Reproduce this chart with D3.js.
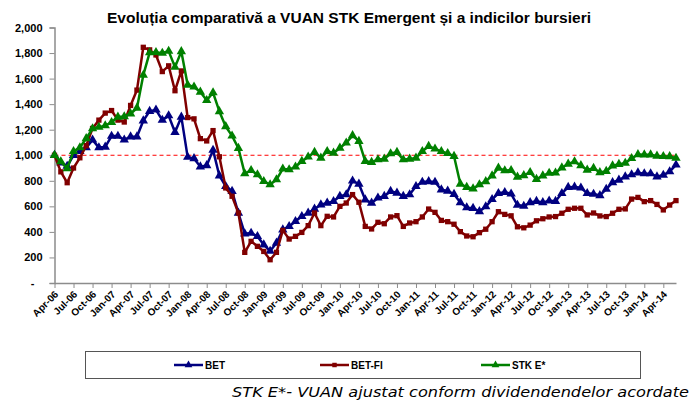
<!DOCTYPE html>
<html>
<head>
<meta charset="utf-8">
<script src="https://cdn.jsdelivr.net/npm/d3@7"></script>
<style>
  body { margin: 0; background: #fff; }
  svg text { font-family: "Liberation Sans", Arial, sans-serif; }
</style>
</head>
<body>
<div id="chart"></div>
<script>
// monthly values, Apr-06 .. Jun-14 (99 months)
const startMonth = new Date(2006, 3, 1);
const months = d3.timeMonth.range(startMonth, new Date(2014, 6, 1));

const tickLabels = ["Apr-06","Jul-06","Oct-06","Jan-07","Apr-07","Jul-07","Oct-07","Jan-08","Apr-08",
  "Jul-08","Oct-08","Jan-09","Apr-09","Jul-09","Oct-09","Jan-10","Apr-10","Jul-10","Oct-10","Jan-11",
  "Apr-11","Jul-11","Oct-11","Jan-12","Apr-12","Jul-12","Oct-12","Jan-13","Apr-13","Jul-13","Oct-13",
  "Jan-14","Apr-14"];

const yTicks = [0, 200, 400, 600, 800, 1000, 1200, 1400, 1600, 1800, 2000];

const bet = [1000, 940, 915, 1000, 1030, 1060, 1120, 1060, 1065, 1150, 1150, 1120, 1145, 1145, 1270, 1345, 1355, 1275, 1310, 1180, 1300, 985, 975, 910, 920,
  1040, 840, 757, 718, 548, 386, 391, 365, 300, 250, 313, 417, 443, 483, 522, 548, 579, 613, 626, 639, 679, 692, 800, 775,
  652, 626, 666, 679, 718, 705, 679, 692, 757, 790, 795, 790,
  730, 720, 695, 630, 590, 585, 560, 598, 655, 702, 710, 698,
  610, 602, 630, 640, 630, 643, 640, 702, 750, 752, 745, 702, 696, 685,
  735, 787, 806, 832, 848, 863, 856, 856, 832, 845, 872, 925];

const betFi = [1000, 870, 785, 900, 980, 1075, 1210, 1275, 1330, 1350, 1275, 1260, 1390, 1510, 1845, 1825, 1785, 1655, 1700, 1505, 1660, 1295, 1285, 1130, 1112, 1193, 988,
  744, 679, 548, 240, 326, 287, 247, 182, 240, 412, 344, 365, 396, 449, 548, 449, 522, 517, 600, 626, 692, 632,
  443, 423, 475, 464, 517, 527, 443, 470, 480, 517, 579, 553,
  490, 480, 460, 402, 368, 362, 394, 421, 480, 558, 537, 526,
  440, 432, 453, 487, 503, 517, 520, 546, 577, 585, 585, 533, 548, 525,
  520, 546, 577, 580, 657, 670, 637, 645, 615, 572, 610, 645];

const stkE = [1000, 950, 895, 1030, 1060, 1131, 1209, 1220, 1232, 1258, 1300, 1303, 1325, 1370, 1627, 1803, 1805, 1800, 1815, 1690, 1812, 1550, 1535, 1495, 1430,
  1490, 1343, 1225, 1152, 1055, 856, 882, 848, 796, 770, 809, 893, 888, 909, 953, 987, 1024, 979, 1031, 1018, 1057, 1097, 1155, 1110,
  953, 945, 966, 971, 1013, 1024, 966, 971, 979, 1031, 1071, 1050,
  1030, 1015, 992, 775, 750, 738, 770, 795, 840, 900, 880, 882,
  830, 842, 866, 812, 840, 860, 862, 902, 932, 950, 920, 885, 898, 865,
  875, 918, 930, 938, 976, 1006, 1004, 1004, 994, 991, 990, 978];

const seriesNames = ["BET", "BET-FI", "STK E*"];
const seriesColors = ["#000080", "#800000", "#008000"];
const seriesShapes = [d3.symbolTriangle, d3.symbolSquare, d3.symbolTriangle];
const seriesValues = [bet, betFi, stkE];

const width = 692, height = 401;
const svg = d3.select("#chart").append("svg")
  .attr("width", width)
  .attr("height", height);

const x = d3.scalePoint()
  .domain(d3.range(months.length))
  .range([54.5, 676]);

const y = d3.scaleLinear()
  .domain([0, 2000])
  .range([283, 27.5]);

// title
svg.append("text")
  .attr("x", 349)
  .attr("y", 23)
  .attr("text-anchor", "middle")
  .style("font-weight", "bold")
  .style("font-size", "14.5px")
  .attr("textLength", 484)
  .attr("lengthAdjust", "spacingAndGlyphs")
  .text("Evoluția  comparativă a VUAN STK Emergent și a indicilor bursieri");

// y axis
const yAxis = svg.append("g")
  .attr("transform", "translate(54.5,0)")
  .call(d3.axisLeft(y).tickValues(yTicks).tickSize(5).tickPadding(7)
    .tickFormat(d => d === 0 ? "-" : d3.format(",")(d)));
yAxis.select(".domain").attr("stroke", "#8c8c8c").attr("stroke-width", 1.5);
yAxis.selectAll(".tick line").attr("stroke", "#8c8c8c");
yAxis.selectAll(".tick text")
  .style("font-size", "11px")
  .style("font-weight", "bold")
  .attr("fill", "#000")
  .attr("dx", d => d === 0 ? -8 : 0);

// x axis
const tickIdx = d3.range(0, months.length, 3);
const xAxis = svg.append("g")
  .attr("transform", "translate(0,283)")
  .call(d3.axisBottom(x).tickValues(tickIdx).tickSize(5).tickSizeOuter(0)
    .tickFormat((d, i) => tickLabels[i]));
xAxis.select(".domain").attr("stroke", "#8c8c8c").attr("stroke-width", 1.5);
xAxis.selectAll(".tick line").attr("stroke", "#8c8c8c");
xAxis.selectAll(".tick text")
  .style("font-size", "10px")
  .style("font-weight", "bold")
  .attr("fill", "#000")
  .attr("text-anchor", "end")
  .attr("x", 0).attr("y", 0).attr("dy", 0)
  .attr("transform", "translate(4,12) rotate(-45)");

// reference line at 1000
svg.append("line")
  .attr("x1", 54.5).attr("x2", 676)
  .attr("y1", y(1000)).attr("y2", y(1000))
  .attr("stroke", "#ff0000")
  .attr("stroke-width", 1)
  .attr("stroke-dasharray", "4,3");

const line = d3.line()
  .x((d, i) => x(i))
  .y(d => y(d));

seriesValues.forEach((vals, s) => {
  const g = svg.append("g");
  g.append("path")
    .datum(vals)
    .attr("fill", "none")
    .attr("stroke", seriesColors[s])
    .attr("stroke-width", 2.5)
    .attr("stroke-linejoin", "round")
    .attr("d", line);
  g.selectAll("path.mark")
    .data(vals)
    .join("path")
    .attr("class", "mark")
    .attr("transform", (d, i) => `translate(${x(i)},${y(d)})`)
    .attr("d", d3.symbol().type(seriesShapes[s]).size(s === 1 ? 28 : 38))
    .attr("fill", seriesColors[s]);
});

// legend
svg.append("rect")
  .attr("x", 85.5).attr("y", 351.5)
  .attr("width", 555).attr("height", 27)
  .attr("fill", "#fff")
  .attr("stroke", "#555")
  .attr("stroke-width", 1);

const legendX = [174, 320, 481];
seriesNames.forEach((name, s) => {
  const lg = svg.append("g").attr("transform", `translate(${legendX[s]},365)`);
  lg.append("line")
    .attr("x1", 0).attr("x2", 29)
    .attr("stroke", seriesColors[s])
    .attr("stroke-width", 2.5);
  lg.append("path")
    .attr("transform", "translate(14.5,0)")
    .attr("d", d3.symbol().type(seriesShapes[s]).size(s === 1 ? 20 : 26))
    .attr("fill", seriesColors[s]);
  lg.append("text")
    .attr("x", 31)
    .attr("dy", "0.35em")
    .style("font-size", "10px")
    .style("font-weight", "bold")
    .text(name);
});

// footnote
svg.append("text")
  .attr("x", 689)
  .attr("y", 397)
  .attr("text-anchor", "end")
  .style("font-family", "'DejaVu Sans', sans-serif")
  .style("font-style", "italic")
  .style("font-size", "14px")
  .attr("textLength", 457)
  .attr("lengthAdjust", "spacingAndGlyphs")
  .text("STK E*- VUAN ajustat conform dividendendelor acordate");
</script>
</body>
</html>
